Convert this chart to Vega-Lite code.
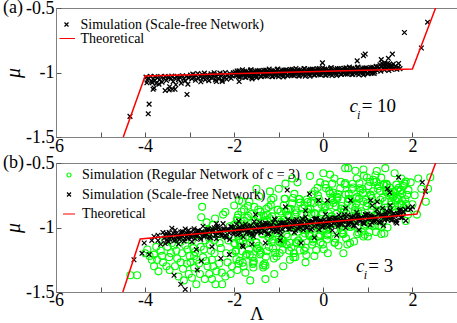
{
"$schema":"https://vega.github.io/schema/vega-lite/v6.json",
"padding":{"left":2,"top":-2,"right":0,"bottom":0},
"bounds":"flush",
"spacing":26,
"resolve":{"scale":{"color":"independent","shape":"independent"},"legend":{"color":"independent","shape":"independent"}},
"config":{
 "view":{"stroke":"#808080","strokeWidth":1},
 "font":"Liberation Serif",
 "axis":{"labelFont":"Liberation Serif","labelFontSize":18,"labelColor":"black","titleFont":"Liberation Serif","titleFontWeight":"normal","titleColor":"black","domainColor":"#808080","tickColor":"#555555","tickSize":-5,"grid":false,"labelOverlap":false,"labelBound":false,"labelFlush":false},
 "text":{"font":"Liberation Serif"}
},
"datasets":{
"a_sf":[{"x":-3.98,"y":-1.035},{"x":-3.95,"y":-1.06},{"x":-3.92,"y":-1.045},{"x":-3.88,"y":-1.03},{"x":-3.85,"y":-1.07},{"x":-3.82,"y":-1.05},{"x":-3.78,"y":-1.032},{"x":-3.75,"y":-1.085},{"x":-3.72,"y":-1.04},{"x":-3.68,"y":-1.058},{"x":-3.65,"y":-1.031},{"x":-3.62,"y":-1.075},{"x":-3.58,"y":-1.045},{"x":-3.55,"y":-1.03},{"x":-3.52,"y":-1.062},{"x":-3.48,"y":-1.038},{"x":-3.45,"y":-1.11},{"x":-3.42,"y":-1.05},{"x":-3.4,"y":-1.028},{"x":-3.37,"y":-1.07},{"x":-3.34,"y":-1.043},{"x":-3.31,"y":-1.095},{"x":-3.28,"y":-1.03},{"x":-3.25,"y":-1.055},{"x":-3.22,"y":-1.038},{"x":-3.19,"y":-1.082},{"x":-3.16,"y":-1.025},{"x":-3.13,"y":-1.048},{"x":-3.1,"y":-1.065},{"x":-3.07,"y":-1.03},{"x":-3.04,"y":-1.09},{"x":-3.02,"y":-1.042},
{"x":-3.96,"y":-1.08},{"x":-3.91,"y":-1.245},{"x":-3.93,"y":-1.32},{"x":-4.34,"y":-1.34},{"x":-3.06,"y":-1.17},{"x":-3.82,"y":-1.13},{"x":-3.55,"y":-1.14},{"x":-3.46,"y":-1.135},{"x":-3.39,"y":-1.13},{"x":-3.33,"y":-1.13},{"x":-3.8,"y":-1.12},{"x":-3.84,"y":-1.08},{"x":-3.78,"y":-1.06},{"x":-3.69,"y":-1.09},
{"x":-2.98,"y":-1.02},{"x":-2.95,"y":-1.048},{"x":-2.93,"y":-1.012},{"x":-2.9,"y":-1.035},{"x":-2.87,"y":-1.06},{"x":-2.85,"y":-1.025},{"x":-2.82,"y":-1.008},{"x":-2.8,"y":-1.045},{"x":-2.77,"y":-1.03},{"x":-2.75,"y":-1.072},{"x":-2.72,"y":-1.015},{"x":-2.7,"y":-1.04},{"x":-2.67,"y":-1.005},{"x":-2.65,"y":-1.055},{"x":-2.62,"y":-1.028},{"x":-2.6,"y":-1.018},{"x":-2.57,"y":-1.063},{"x":-2.55,"y":-1.035},{"x":-2.52,"y":-1.01},{"x":-2.5,"y":-1.045},{"x":-2.47,"y":-1.022},{"x":-2.45,"y":-1.002},{"x":-2.42,"y":-1.058},{"x":-2.4,"y":-1.032},{"x":-2.37,"y":-1.015},{"x":-2.35,"y":-1.048},{"x":-2.32,"y":-1.005},{"x":-2.3,"y":-1.027},{"x":-2.27,"y":-1.07},{"x":-2.25,"y":-1.012},{"x":-2.22,"y":-1.038},{"x":-2.2,"y":-1.0},{"x":-2.17,"y":-1.052},{"x":-2.15,"y":-1.02},{"x":-2.12,"y":-1.035},{"x":-2.1,"y":-1.008},{"x":-2.07,"y":-1.045},{"x":-2.05,"y":-1.025},{"x":-2.02,"y":-1.003},
{"x":-1.89,"y":-1.07},{"x":-1.6,"y":-1.05},{"x":-2.27,"y":-1.06},{"x":-2.4,"y":-1.07},
{"x":-1.98,"y":-0.997},{"x":-1.95,"y":-1.027},{"x":-1.92,"y":-1.012},{"x":-1.89,"y":-0.986},{"x":-1.86,"y":-1.035},{"x":-1.83,"y":-1.002},{"x":-1.8,"y":-1.018},{"x":-1.77,"y":-0.99},{"x":-1.74,"y":-1.038},{"x":-1.71,"y":-1.006},{"x":-1.68,"y":-0.997},{"x":-1.65,"y":-1.028},{"x":-1.62,"y":-0.98},{"x":-1.59,"y":-1.012},{"x":-1.56,"y":-1.02},{"x":-1.53,"y":-0.991},{"x":-1.5,"y":-1.04},{"x":-1.47,"y":-1.001},{"x":-1.44,"y":-0.985},{"x":-1.41,"y":-1.029},{"x":-1.38,"y":-0.991},{"x":-1.35,"y":-1.021},{"x":-1.32,"y":-1.007},{"x":-1.29,"y":-0.981},{"x":-1.26,"y":-1.029},{"x":-1.23,"y":-0.997},{"x":-1.2,"y":-1.013},{"x":-1.17,"y":-0.985},{"x":-1.14,"y":-1.032},{"x":-1.11,"y":-1.001},{"x":-1.08,"y":-0.992},{"x":-1.05,"y":-1.022},{"x":-1.02,"y":-0.974},{"x":-0.99,"y":-1.007},{"x":-0.96,"y":-1.015},{"x":-0.93,"y":-0.985},{"x":-0.9,"y":-1.034},{"x":-0.87,"y":-0.996},{"x":-0.84,"y":-0.98},{"x":-0.81,"y":-1.023},{"x":-0.78,"y":-0.986},{"x":-0.75,"y":-1.016},{"x":-0.72,"y":-1.001},{"x":-0.69,"y":-0.975},{"x":-0.66,"y":-1.024},{"x":-0.63,"y":-0.992},{"x":-0.6,"y":-1.007},{"x":-0.57,"y":-0.979},{"x":-0.54,"y":-1.027},{"x":-0.51,"y":-0.996},{"x":-0.48,"y":-0.986},{"x":-0.45,"y":-1.017},{"x":-0.42,"y":-0.969},{"x":-0.39,"y":-1.002},{"x":-0.36,"y":-1.009},{"x":-0.33,"y":-0.98},{"x":-0.3,"y":-1.029},{"x":-0.27,"y":-0.99},{"x":-0.24,"y":-0.974},{"x":-0.21,"y":-1.018},{"x":-0.18,"y":-0.981},{"x":-0.15,"y":-1.01},{"x":-0.12,"y":-0.996},{"x":-0.09,"y":-0.97},{"x":-0.06,"y":-1.019},{"x":-0.03,"y":-0.986},{"x":0.0,"y":-1.002},{"x":0.03,"y":-0.974},{"x":0.06,"y":-1.021},{"x":0.09,"y":-0.99},{"x":0.12,"y":-0.981},{"x":0.15,"y":-1.012},{"x":0.18,"y":-0.963},{"x":0.21,"y":-0.996},{"x":0.24,"y":-1.004},{"x":0.27,"y":-0.975},{"x":0.3,"y":-1.023},{"x":0.33,"y":-0.985},{"x":0.36,"y":-0.969},{"x":0.39,"y":-1.013},{"x":0.42,"y":-0.975},{"x":0.45,"y":-1.005},{"x":0.48,"y":-0.991},{"x":0.51,"y":-0.964},{"x":0.54,"y":-1.013},{"x":0.57,"y":-0.981},{"x":0.6,"y":-0.997},{"x":0.63,"y":-0.968},{"x":0.66,"y":-1.016},{"x":0.69,"y":-0.985},{"x":0.72,"y":-0.976},{"x":0.75,"y":-1.006},{"x":0.78,"y":-0.958},{"x":0.81,"y":-0.991},{"x":0.84,"y":-0.998},{"x":0.87,"y":-0.969},{"x":0.9,"y":-1.018},{"x":0.93,"y":-0.98},{"x":0.96,"y":-0.963},{"x":0.99,"y":-1.007},{"x":1.02,"y":-0.97},{"x":1.05,"y":-1.0},{"x":1.08,"y":-0.985},{"x":1.11,"y":-0.959},{"x":1.14,"y":-1.008},{"x":1.17,"y":-0.976},
{"x":-1.965,"y":-1.018},{"x":-1.935,"y":-0.988},{"x":-1.905,"y":-1.032},{"x":-1.875,"y":-1.001},{"x":-1.845,"y":-1.022},{"x":-1.815,"y":-0.979},{"x":-1.785,"y":-1.009},{"x":-1.755,"y":-1.037},{"x":-1.725,"y":-0.992},{"x":-1.695,"y":-1.025},{"x":-1.665,"y":-1.005},{"x":-1.635,"y":-0.982},{"x":-1.605,"y":-1.038},{"x":-1.575,"y":-0.995},{"x":-1.545,"y":-1.011},{"x":-1.515,"y":-1.026},{"x":-1.485,"y":-0.986},{"x":-1.455,"y":-1.016},{"x":-1.425,"y":-0.998},{"x":-1.395,"y":-1.032},{"x":-1.365,"y":-1.012},{"x":-1.335,"y":-0.983},{"x":-1.305,"y":-1.027},{"x":-1.275,"y":-0.995},{"x":-1.245,"y":-1.016},{"x":-1.215,"y":-0.974},{"x":-1.185,"y":-1.004},{"x":-1.155,"y":-1.031},{"x":-1.125,"y":-0.986},{"x":-1.095,"y":-1.02},{"x":-1.065,"y":-1.0},{"x":-1.035,"y":-0.976},{"x":-1.005,"y":-1.033},{"x":-0.975,"y":-0.99},{"x":-0.945,"y":-1.006},{"x":-0.915,"y":-1.02},{"x":-0.885,"y":-0.981},{"x":-0.855,"y":-1.011},{"x":-0.825,"y":-0.992},{"x":-0.795,"y":-1.026},{"x":-0.765,"y":-1.007},{"x":-0.735,"y":-0.978},{"x":-0.705,"y":-1.021},{"x":-0.675,"y":-0.99},{"x":-0.645,"y":-1.011},{"x":-0.615,"y":-0.969},{"x":-0.585,"y":-0.998},{"x":-0.555,"y":-1.026},{"x":-0.525,"y":-0.981},{"x":-0.495,"y":-1.014},{"x":-0.465,"y":-0.994},{"x":-0.435,"y":-0.971},{"x":-0.405,"y":-1.028},{"x":-0.375,"y":-0.984},{"x":-0.345,"y":-1.0},{"x":-0.315,"y":-1.015},{"x":-0.285,"y":-0.976},{"x":-0.255,"y":-1.005},{"x":-0.225,"y":-0.987},{"x":-0.195,"y":-1.021},{"x":-0.165,"y":-1.001},{"x":-0.135,"y":-0.972},{"x":-0.105,"y":-1.016},{"x":-0.075,"y":-0.985},{"x":-0.045,"y":-1.005},{"x":-0.015,"y":-0.963},{"x":0.015,"y":-0.993},{"x":0.045,"y":-1.021},{"x":0.075,"y":-0.975},{"x":0.105,"y":-1.009},{"x":0.135,"y":-0.989},{"x":0.165,"y":-0.966},{"x":0.195,"y":-1.022},{"x":0.225,"y":-0.979},{"x":0.255,"y":-0.995},{"x":0.285,"y":-1.009},{"x":0.315,"y":-0.97},{"x":0.345,"y":-1.0},{"x":0.375,"y":-0.982},{"x":0.405,"y":-1.015},{"x":0.435,"y":-0.996},{"x":0.465,"y":-0.967},{"x":0.495,"y":-1.011},{"x":0.525,"y":-0.979},{"x":0.555,"y":-1.0},{"x":0.585,"y":-0.958},{"x":0.615,"y":-0.988},{"x":0.645,"y":-1.015},{"x":0.675,"y":-0.97},{"x":0.705,"y":-1.004},{"x":0.735,"y":-0.983},{"x":0.765,"y":-0.96},{"x":0.795,"y":-1.017},{"x":0.825,"y":-0.974},{"x":0.855,"y":-0.989},{"x":0.885,"y":-1.004},{"x":0.915,"y":-0.965},{"x":0.945,"y":-0.995},{"x":0.975,"y":-0.976},{"x":1.005,"y":-1.01},{"x":1.035,"y":-0.991},{"x":1.065,"y":-0.961},{"x":1.095,"y":-1.005},{"x":1.125,"y":-0.974},{"x":1.155,"y":-0.995},{"x":1.185,"y":-0.952},
{"x":1.21,"y":-0.985},{"x":1.23,"y":-0.955},{"x":1.25,"y":-0.97},{"x":1.27,"y":-0.94},{"x":1.29,"y":-0.99},{"x":1.31,"y":-0.95},{"x":1.32,"y":-0.93},{"x":1.34,"y":-0.965},{"x":1.35,"y":-0.945},{"x":1.37,"y":-0.98},{"x":1.38,"y":-0.925},{"x":1.4,"y":-0.955},{"x":1.41,"y":-0.94},{"x":1.43,"y":-0.97},{"x":1.44,"y":-0.93},{"x":1.46,"y":-0.95},{"x":1.47,"y":-0.985},{"x":1.49,"y":-0.935},{"x":1.5,"y":-0.96},{"x":1.52,"y":-0.945},{"x":1.53,"y":-0.975},{"x":1.55,"y":-0.955},{"x":1.57,"y":-0.935},{"x":1.59,"y":-0.968},{"x":1.62,"y":-0.95},{"x":1.65,"y":-0.975},{"x":1.68,"y":-0.96},{"x":1.72,"y":-0.97},
{"x":1.55,"y":-0.857},{"x":1.69,"y":-0.93},{"x":0.9,"y":-0.87},{"x":0.94,"y":-0.857},{"x":0.76,"y":-0.91},{"x":1.46,"y":-0.89},{"x":-0.02,"y":-0.925},{"x":1.82,"y":-0.69},{"x":2.34,"y":-0.61},{"x":2.2,"y":-0.81},{"x":1.3,"y":-0.9}],
"a_th":[{"x":-4.49,"y":-1.5},{"x":-4.0,"y":-1.027},{"x":2.0,"y":-0.973},{"x":2.52,"y":-0.5}],
"b_reg":[{"x":-4.33,"y":-1.37},{"x":-4.18,"y":-1.37},{"x":-4.0,"y":-1.2},{"x":-3.8,"y":-1.21},{"x":-3.73,"y":-1.25},{"x":-3.8,"y":-1.3},{"x":-3.85,"y":-1.25},{"x":-3.55,"y":-1.1},{"x":-3.5,"y":-1.15},{"x":-3.46,"y":-1.23},{"x":-3.17,"y":-1.2},{"x":-3.33,"y":-1.3},{"x":-3.06,"y":-1.28},{"x":-2.85,"y":-1.44},{"x":-3.13,"y":-1.41},{"x":-2.72,"y":-0.84},{"x":-2.74,"y":-0.92},{"x":-2.42,"y":-1.44},{"x":-2.27,"y":-1.44},{"x":-2.56,"y":-1.36},{"x":-2.79,"y":-1.28},{"x":-2.34,"y":-1.28},{"x":-2.43,"y":-0.93},{"x":-3.95,"y":-1.17},{"x":-3.65,"y":-1.18},{"x":-3.6,"y":-1.27},{"x":-3.4,"y":-1.12},{"x":-3.3,"y":-1.18},{"x":-3.25,"y":-1.09},{"x":-3.2,"y":-1.27},{"x":-3.1,"y":-1.14},{"x":-3.0,"y":-1.22},{"x":-2.95,"y":-1.1},{"x":-2.9,"y":-1.31},{"x":-2.88,"y":-1.19},{"x":-2.8,"y":-1.06},{"x":-2.75,"y":-1.15},{"x":-2.7,"y":-1.23},{"x":-2.65,"y":-1.1},{"x":-2.6,"y":-1.3},{"x":-2.58,"y":-1.02},{"x":-2.52,"y":-1.18},{"x":-2.5,"y":-1.25},{"x":-2.48,"y":-0.98},{"x":-3.45,"y":-1.33},{"x":-3.7,"y":-1.34},{"x":-3.02,"y":-1.36},{"x":-2.95,"y":-1.39},{"x":-3.25,"y":-1.38},{"x":-2.66,"y":-1.4},{"x":-2.57,"y":-1.08},{"x":-2.62,"y":-0.96},{"x":-2.45,"y":-1.1},{"x":-2.4,"y":-1.34},{"x":-2.35,"y":-1.05},{"x":-2.3,"y":-1.16},{"x":-2.25,"y":-0.9},{"x":-2.2,"y":-1.38},{"x":-2.15,"y":-1.27},{"x":-2.1,"y":-0.99},{"x":-2.05,"y":-1.3},{"x":-2.0,"y":-1.12},
{"x":-3.9,"y":-1.22},{"x":-3.75,"y":-1.15},{"x":-3.62,"y":-1.22},{"x":-3.52,"y":-1.3},{"x":-3.42,"y":-1.2},{"x":-3.35,"y":-1.14},{"x":-3.28,"y":-1.24},{"x":-3.15,"y":-1.32},{"x":-3.05,"y":-1.17},{"x":-2.98,"y":-1.27},{"x":-2.92,"y":-1.16},{"x":-2.84,"y":-1.25},{"x":-2.77,"y":-1.36},{"x":-2.73,"y":-1.05},{"x":-2.68,"y":-1.17},{"x":-2.63,"y":-1.26},{"x":-2.55,"y":-1.13},{"x":-2.47,"y":-1.3},{"x":-2.44,"y":-1.2},{"x":-2.38,"y":-1.03},{"x":-2.33,"y":-1.12},{"x":-2.28,"y":-1.35},{"x":-2.23,"y":-1.06},{"x":-2.18,"y":-1.2},{"x":-2.13,"y":-1.1},{"x":-2.08,"y":-1.36},{"x":-2.04,"y":-1.2},{"x":-2.5,"y":-1.4},{"x":-2.9,"y":-1.22},{"x":-3.2,"y":-1.11},
{"x":-2.0,"y":-0.98},{"x":-1.96,"y":-1.176},{"x":-1.92,"y":-1.063},{"x":-1.88,"y":-1.259},{"x":-1.84,"y":-0.876},{"x":-1.8,"y":-1.102},{"x":-1.76,"y":-0.988},{"x":-1.72,"y":-1.205},{"x":-1.68,"y":-0.911},{"x":-1.64,"y":-1.118},{"x":-1.6,"y":-1.054},{"x":-1.56,"y":-1.26},{"x":-1.52,"y":-0.987},{"x":-1.48,"y":-1.163},{"x":-1.44,"y":-0.91},{"x":-1.4,"y":-1.196},{"x":-1.36,"y":-0.992},{"x":-1.32,"y":-1.279},{"x":-1.28,"y":-0.855},{"x":-1.24,"y":-1.072},{"x":-1.2,"y":-0.928},{"x":-1.16,"y":-1.114},{"x":-1.12,"y":-0.771},{"x":-1.08,"y":-1.197},{"x":-1.04,"y":-0.994},{"x":-1.0,"y":-1.08},{"x":-0.96,"y":-0.876},{"x":-0.92,"y":-1.123},{"x":-0.88,"y":-0.939},{"x":-0.84,"y":-0.876},{"x":-0.8,"y":-1.072},{"x":-0.76,"y":-0.958},{"x":-0.72,"y":-1.155},{"x":-0.68,"y":-0.771},{"x":-0.64,"y":-0.998},{"x":-0.6,"y":-0.884},{"x":-0.56,"y":-1.1},{"x":-0.52,"y":-0.807},{"x":-0.48,"y":-1.013},{"x":-0.44,"y":-0.95},{"x":-0.4,"y":-1.156},{"x":-0.36,"y":-0.882},{"x":-0.32,"y":-1.059},{"x":-0.28,"y":-0.805},{"x":-0.24,"y":-1.092},{"x":-0.2,"y":-0.888},{"x":-0.16,"y":-1.174},{"x":-0.12,"y":-0.751},{"x":-0.08,"y":-0.967},{"x":-0.04,"y":-0.824},{"x":0.0,"y":-1.01},{"x":0.04,"y":-0.666},{"x":0.08,"y":-1.093},{"x":0.12,"y":-0.889},{"x":0.16,"y":-0.976},{"x":0.2,"y":-0.772},{"x":0.24,"y":-1.018},{"x":0.28,"y":-0.835},{"x":0.32,"y":-0.771},{"x":0.36,"y":-0.968},{"x":0.4,"y":-0.854},{"x":0.44,"y":-1.05},{"x":0.48,"y":-0.667},{"x":0.52,"y":-0.893},{"x":0.56,"y":-0.78},{"x":0.6,"y":-0.996},{"x":0.64,"y":-0.702},{"x":0.68,"y":-0.909},{"x":0.72,"y":-0.845},{"x":0.76,"y":-1.052},{"x":0.8,"y":-0.778},{"x":0.84,"y":-0.954},{"x":0.88,"y":-0.701},{"x":0.92,"y":-0.987},{"x":0.96,"y":-0.784},{"x":1.0,"y":-1.07},{"x":1.04,"y":-0.646},{"x":1.08,"y":-0.863},{"x":1.12,"y":-0.719},{"x":1.16,"y":-0.906},{"x":1.2,"y":-0.562},{"x":1.24,"y":-0.988},{"x":1.28,"y":-0.785},{"x":1.32,"y":-0.871},{"x":1.36,"y":-0.668},{"x":1.4,"y":-0.914},{"x":1.44,"y":-0.73},{"x":1.48,"y":-0.727},{"x":1.52,"y":-0.824},{"x":1.56,"y":-0.765},{"x":1.6,"y":-0.862},{"x":1.64,"y":-0.668},{"x":1.68,"y":-0.78},{"x":1.72,"y":-0.721},{"x":1.76,"y":-0.828},{"x":1.8,"y":-0.679},{"x":1.84,"y":-0.781},{"x":1.88,"y":-0.747},
{"x":-1.98,"y":-1.128},{"x":-1.94,"y":-0.945},{"x":-1.9,"y":-1.281},{"x":-1.86,"y":-1.047},{"x":-1.82,"y":-1.184},{"x":-1.78,"y":-0.86},{"x":-1.74,"y":-1.217},{"x":-1.7,"y":-0.993},{"x":-1.66,"y":-1.079},{"x":-1.62,"y":-0.896},{"x":-1.58,"y":-1.282},{"x":-1.54,"y":-0.949},{"x":-1.5,"y":-1.115},{"x":-1.46,"y":-0.861},{"x":-1.42,"y":-1.208},{"x":-1.38,"y":-1.044},{"x":-1.34,"y":-0.911},{"x":-1.3,"y":-1.297},{"x":-1.26,"y":-0.943},{"x":-1.22,"y":-1.15},{"x":-1.18,"y":-0.826},{"x":-1.14,"y":-1.093},{"x":-1.1,"y":-0.979},{"x":-1.06,"y":-1.045},{"x":-1.02,"y":-0.862},{"x":-0.98,"y":-1.198},{"x":-0.94,"y":-0.965},{"x":-0.9,"y":-1.101},{"x":-0.86,"y":-0.777},{"x":-0.82,"y":-1.134},{"x":-0.78,"y":-0.91},{"x":-0.74,"y":-0.997},{"x":-0.7,"y":-0.813},{"x":-0.66,"y":-1.199},{"x":-0.62,"y":-0.866},{"x":-0.58,"y":-1.032},{"x":-0.54,"y":-0.779},{"x":-0.5,"y":-1.125},{"x":-0.46,"y":-0.961},{"x":-0.42,"y":-0.828},{"x":-0.38,"y":-1.214},{"x":-0.34,"y":-0.861},{"x":-0.3,"y":-1.067},{"x":-0.26,"y":-0.743},{"x":-0.22,"y":-1.01},{"x":-0.18,"y":-0.896},{"x":-0.14,"y":-0.963},{"x":-0.1,"y":-0.779},{"x":-0.06,"y":-1.115},{"x":-0.02,"y":-0.882},{"x":0.02,"y":-1.018},{"x":0.06,"y":-0.695},{"x":0.1,"y":-1.051},{"x":0.14,"y":-0.827},{"x":0.18,"y":-0.914},{"x":0.22,"y":-0.73},{"x":0.26,"y":-1.117},{"x":0.3,"y":-0.783},{"x":0.34,"y":-0.949},{"x":0.38,"y":-0.696},{"x":0.42,"y":-1.042},{"x":0.46,"y":-0.879},{"x":0.5,"y":-0.745},{"x":0.54,"y":-1.131},{"x":0.58,"y":-0.778},{"x":0.62,"y":-0.984},{"x":0.66,"y":-0.661},{"x":0.7,"y":-0.927},{"x":0.74,"y":-0.813},{"x":0.78,"y":-0.88},{"x":0.82,"y":-0.696},{"x":0.86,"y":-1.033},{"x":0.9,"y":-0.799},{"x":0.94,"y":-0.935},{"x":0.98,"y":-0.612},{"x":1.02,"y":-0.968},{"x":1.06,"y":-0.745},{"x":1.1,"y":-0.831},{"x":1.14,"y":-0.647},{"x":1.18,"y":-1.034},{"x":1.22,"y":-0.7},{"x":1.26,"y":-0.867},{"x":1.3,"y":-0.613},{"x":1.34,"y":-0.959},{"x":1.38,"y":-0.796},{"x":1.42,"y":-0.662},{"x":1.46,"y":-0.919},{"x":1.5,"y":-0.741},{"x":1.54,"y":-0.842},{"x":1.58,"y":-0.759},{"x":1.62,"y":-0.79},{"x":1.66,"y":-0.707},{"x":1.7,"y":-0.878},{"x":1.74,"y":-0.71},{"x":1.78,"y":-0.796},{"x":1.82,"y":-0.658},{"x":1.86,"y":-0.819},
{"x":-1.99,"y":-1.019},{"x":-1.95,"y":-1.246},{"x":-1.91,"y":-0.902},{"x":-1.87,"y":-1.118},{"x":-1.83,"y":-0.975},{"x":-1.79,"y":-1.301},{"x":-1.75,"y":-1.078},{"x":-1.71,"y":-0.924},{"x":-1.67,"y":-1.17},{"x":-1.63,"y":-1.017},{"x":-1.59,"y":-1.233},{"x":-1.55,"y":-0.84},{"x":-1.51,"y":-1.116},{"x":-1.47,"y":-0.922},{"x":-1.43,"y":-1.179},{"x":-1.39,"y":-1.015},{"x":-1.35,"y":-1.292},{"x":-1.31,"y":-0.958},{"x":-1.27,"y":-1.184},{"x":-1.23,"y":-0.841},{"x":-1.19,"y":-1.057},{"x":-1.15,"y":-0.914},{"x":-1.11,"y":-1.24},{"x":-1.07,"y":-1.016},{"x":-1.03,"y":-0.863},{"x":-0.99,"y":-1.109},{"x":-0.95,"y":-0.956},{"x":-0.91,"y":-1.172},{"x":-0.87,"y":-0.778},{"x":-0.83,"y":-1.055},{"x":-0.79,"y":-0.861},{"x":-0.75,"y":-1.118},{"x":-0.71,"y":-0.954},{"x":-0.67,"y":-1.23},{"x":-0.63,"y":-0.897},{"x":-0.59,"y":-1.123},{"x":-0.55,"y":-0.78},{"x":-0.51,"y":-0.996},{"x":-0.47,"y":-0.852},{"x":-0.43,"y":-1.179},{"x":-0.39,"y":-0.955},{"x":-0.35,"y":-0.802},{"x":-0.31,"y":-1.048},{"x":-0.27,"y":-0.894},{"x":-0.23,"y":-1.111},{"x":-0.19,"y":-0.717},{"x":-0.15,"y":-0.994},{"x":-0.11,"y":-0.8},{"x":-0.07,"y":-1.056},{"x":-0.03,"y":-0.893},{"x":0.01,"y":-1.169},{"x":0.05,"y":-0.836},{"x":0.09,"y":-1.062},{"x":0.13,"y":-0.718},{"x":0.17,"y":-0.935},{"x":0.21,"y":-0.791},{"x":0.25,"y":-1.118},{"x":0.29,"y":-0.894},{"x":0.33,"y":-0.74},{"x":0.37,"y":-0.987},{"x":0.41,"y":-0.833},{"x":0.45,"y":-1.05},{"x":0.49,"y":-0.656},{"x":0.53,"y":-0.932},{"x":0.57,"y":-0.739},{"x":0.61,"y":-0.995},{"x":0.65,"y":-0.832},{"x":0.69,"y":-1.108},{"x":0.73,"y":-0.774},{"x":0.77,"y":-1.001},{"x":0.81,"y":-0.657},{"x":0.85,"y":-0.874},{"x":0.89,"y":-0.73},{"x":0.93,"y":-1.056},{"x":0.97,"y":-0.833},{"x":1.01,"y":-0.679},{"x":1.05,"y":-0.926},{"x":1.09,"y":-0.772},{"x":1.13,"y":-0.988},{"x":1.17,"y":-0.595},{"x":1.21,"y":-0.871},{"x":1.25,"y":-0.678},{"x":1.29,"y":-0.934},{"x":1.33,"y":-0.77},{"x":1.37,"y":-1.047},{"x":1.41,"y":-0.713},{"x":1.45,"y":-0.864},{"x":1.49,"y":-0.691},{"x":1.53,"y":-0.797},{"x":1.57,"y":-0.724},{"x":1.61,"y":-0.885},{"x":1.65,"y":-0.772},{"x":1.69,"y":-0.693},{"x":1.73,"y":-0.815},{"x":1.77,"y":-0.736},{"x":1.81,"y":-0.843},{"x":1.85,"y":-0.644},
{"x":-1.97,"y":-1.187},{"x":-1.93,"y":-0.924},{"x":-1.89,"y":-1.1},{"x":-1.85,"y":-0.997},{"x":-1.81,"y":-1.273},{"x":-1.77,"y":-0.949},{"x":-1.73,"y":-1.126},{"x":-1.69,"y":-0.832},{"x":-1.65,"y":-1.209},{"x":-1.61,"y":-1.045},{"x":-1.57,"y":-1.271},{"x":-1.53,"y":-0.988},{"x":-1.49,"y":-1.164},{"x":-1.45,"y":-1.141},{"x":-1.41,"y":-0.877},{"x":-1.37,"y":-1.053},{"x":-1.33,"y":-0.95},{"x":-1.29,"y":-1.226},{"x":-1.25,"y":-0.903},{"x":-1.21,"y":-1.079},{"x":-1.17,"y":-0.785},{"x":-1.13,"y":-1.162},{"x":-1.09,"y":-0.998},{"x":-1.05,"y":-1.225},{"x":-1.01,"y":-0.941},{"x":-0.97,"y":-1.117},{"x":-0.93,"y":-1.094},{"x":-0.89,"y":-0.83},{"x":-0.85,"y":-1.007},{"x":-0.81,"y":-0.903},{"x":-0.77,"y":-1.179},{"x":-0.73,"y":-0.856},{"x":-0.69,"y":-1.032},{"x":-0.65,"y":-0.739},{"x":-0.61,"y":-1.115},{"x":-0.57,"y":-0.951},{"x":-0.53,"y":-1.178},{"x":-0.49,"y":-0.894},{"x":-0.45,"y":-1.071},{"x":-0.41,"y":-1.047},{"x":-0.37,"y":-0.783},{"x":-0.33,"y":-0.96},{"x":-0.29,"y":-0.856},{"x":-0.25,"y":-1.133},{"x":-0.21,"y":-0.809},{"x":-0.17,"y":-0.985},{"x":-0.13,"y":-0.692},{"x":-0.09,"y":-1.068},{"x":-0.05,"y":-0.905},{"x":-0.01,"y":-1.131},{"x":0.03,"y":-0.847},{"x":0.07,"y":-1.024},{"x":0.11,"y":-1.0},{"x":0.15,"y":-0.737},{"x":0.19,"y":-0.913},{"x":0.23,"y":-0.809},{"x":0.27,"y":-1.086},{"x":0.31,"y":-0.762},{"x":0.35,"y":-0.939},{"x":0.39,"y":-0.645},{"x":0.43,"y":-1.021},{"x":0.47,"y":-0.858},{"x":0.51,"y":-1.084},{"x":0.55,"y":-0.801},{"x":0.59,"y":-0.977},{"x":0.63,"y":-0.953},{"x":0.67,"y":-0.69},{"x":0.71,"y":-0.866},{"x":0.75,"y":-0.763},{"x":0.79,"y":-1.039},{"x":0.83,"y":-0.715},{"x":0.87,"y":-0.892},{"x":0.91,"y":-0.598},{"x":0.95,"y":-0.975},{"x":0.99,"y":-0.811},{"x":1.03,"y":-1.037},{"x":1.07,"y":-0.754},{"x":1.11,"y":-0.93},{"x":1.15,"y":-0.907},{"x":1.19,"y":-0.643},{"x":1.23,"y":-0.819},{"x":1.27,"y":-0.716},{"x":1.31,"y":-0.992},{"x":1.35,"y":-0.669},{"x":1.39,"y":-0.845},{"x":1.43,"y":-0.671},
{"x":0.49,"y":-0.54},{"x":0.56,"y":-0.54},{"x":0.72,"y":-0.56},{"x":1.39,"y":-0.54},{"x":1.12,"y":-0.63},{"x":0.25,"y":-0.62},{"x":0.2,"y":-0.66},{"x":-0.07,"y":-0.65},{"x":-0.58,"y":-0.65},{"x":-0.85,"y":-0.66},{"x":1.91,"y":-0.71},{"x":2.4,"y":-0.61},{"x":2.13,"y":-0.62},{"x":1.96,"y":-0.65},{"x":2.05,"y":-0.75},{"x":2.2,"y":-0.7},{"x":2.3,"y":-0.8},{"x":2.0,"y":-0.82},{"x":1.9,"y":-0.9},{"x":1.44,"y":-1.0},{"x":0.9,"y":-1.07},{"x":1.06,"y":-0.98},{"x":-1.64,"y":-1.41},{"x":-1.35,"y":-1.31},{"x":-1.57,"y":-1.31},{"x":-1.93,"y":-1.33},{"x":-0.63,"y":-1.23},{"x":0.34,"y":-1.14},{"x":-0.11,"y":-1.07},{"x":-1.89,"y":-0.79},{"x":-1.66,"y":-0.8},{"x":-1.44,"y":-0.76},{"x":-1.82,"y":-0.8},{"x":-1.2,"y":-0.72},{"x":-1.0,"y":-0.7},{"x":-0.3,"y":-0.6},{"x":0.0,"y":-0.58},{"x":0.9,"y":-0.55},{"x":-1.1,"y":-1.36},{"x":-0.9,"y":-1.3},{"x":-0.4,"y":-1.27},{"x":0.1,"y":-1.2},{"x":0.6,"y":-1.12},{"x":1.3,"y":-1.05},{"x":-2.2,"y":-0.88},{"x":-2.0,"y":-0.83},{"x":-1.3,"y":-1.4},{"x":-0.75,"y":-1.25},{"x":-1.75,"y":-1.35},{"x":-0.2,"y":-1.22},{"x":0.45,"y":-1.2},{"x":-1.5,"y":-0.7},{"x":-0.7,"y":-0.62},{"x":0.15,"y":-0.59},{"x":0.75,"y":-0.62},{"x":1.6,"y":-0.58},{"x":1.75,"y":-0.62},{"x":1.85,"y":-0.95},{"x":2.1,"y":-0.9},{"x":2.35,"y":-0.7}],
"b_sf":[{"x":-3.6,"y":-1.038},{"x":-3.55,"y":-1.124},{"x":-3.5,"y":-1.062},{"x":-3.45,"y":-1.089},{"x":-3.4,"y":-1.006},{"x":-3.35,"y":-1.103},{"x":-3.3,"y":-1.047},{"x":-3.25,"y":-1.128},{"x":-3.2,"y":-1.035},{"x":-3.15,"y":-1.068},{"x":-3.1,"y":-1.011},{"x":-3.05,"y":-1.085},{"x":-3.0,"y":-1.052},{"x":-2.95,"y":-1.11},{"x":-2.9,"y":-1.01},{"x":-2.85,"y":-1.065},{"x":-2.8,"y":-1.026},{"x":-2.75,"y":-1.091},{"x":-2.7,"y":-0.99},{"x":-2.65,"y":-1.047},{"x":-2.6,"y":-1.03},{"x":-2.55,"y":-1.075},{"x":-2.5,"y":-1.009},{"x":-2.45,"y":-1.002},{"x":-2.4,"y":-1.088},{"x":-2.35,"y":-1.026},{"x":-2.3,"y":-1.054},{"x":-2.25,"y":-0.97},{"x":-2.2,"y":-1.067},{"x":-2.15,"y":-1.011},{"x":-2.1,"y":-1.092},{"x":-2.05,"y":-0.999},{"x":-2.0,"y":-1.032},{"x":-1.95,"y":-0.975},{"x":-1.9,"y":-1.049},{"x":-1.85,"y":-1.017},{"x":-1.8,"y":-1.074},{"x":-1.75,"y":-0.974},{"x":-1.7,"y":-1.029},{"x":-1.65,"y":-0.99},{"x":-1.6,"y":-1.055},{"x":-1.55,"y":-0.954},{"x":-1.5,"y":-1.011},{"x":-1.45,"y":-0.994},{"x":-1.4,"y":-1.04},{"x":-1.35,"y":-0.973},{"x":-1.3,"y":-0.966},{"x":-1.25,"y":-1.052},{"x":-1.2,"y":-0.99},{"x":-1.15,"y":-1.018},{"x":-1.1,"y":-0.934},{"x":-1.05,"y":-1.032},{"x":-1.0,"y":-0.975},{"x":-0.95,"y":-1.056},{"x":-0.9,"y":-0.963},{"x":-0.85,"y":-0.996},{"x":-0.8,"y":-0.939},{"x":-0.75,"y":-1.013},{"x":-0.7,"y":-0.981},{"x":-0.65,"y":-1.038},{"x":-0.6,"y":-0.939},{"x":-0.55,"y":-0.993},{"x":-0.5,"y":-0.954},{"x":-0.45,"y":-1.019},{"x":-0.4,"y":-0.918},{"x":-0.35,"y":-0.975},{"x":-0.3,"y":-0.958},{"x":-0.25,"y":-1.004},{"x":-0.2,"y":-0.937},{"x":-0.15,"y":-0.931},{"x":-0.1,"y":-1.016},{"x":-0.05,"y":-0.954},{"x":0.0,"y":-0.982},{"x":0.05,"y":-0.898},{"x":0.1,"y":-0.996},{"x":0.15,"y":-0.939},{"x":0.2,"y":-1.021},{"x":0.25,"y":-0.927},{"x":0.3,"y":-0.96},{"x":0.35,"y":-0.903},{"x":0.4,"y":-0.977},{"x":0.45,"y":-0.945},{"x":0.5,"y":-1.002},{"x":0.55,"y":-0.903},{"x":0.6,"y":-0.957},{"x":0.65,"y":-0.919},{"x":0.7,"y":-0.983},{"x":0.75,"y":-0.882},{"x":0.8,"y":-0.939},{"x":0.85,"y":-0.922},{"x":0.9,"y":-0.968},{"x":0.95,"y":-0.901},{"x":1.0,"y":-0.895},{"x":1.05,"y":-0.98},{"x":1.1,"y":-0.919},{"x":1.15,"y":-0.946},{"x":1.2,"y":-0.862},{"x":1.25,"y":-0.96},{"x":1.3,"y":-0.903},{"x":1.35,"y":-0.985},{"x":1.4,"y":-0.891},{"x":1.45,"y":-0.925},{"x":1.5,"y":-0.867},{"x":1.55,"y":-0.941},{"x":1.6,"y":-0.909},{"x":1.65,"y":-0.966},{"x":1.7,"y":-0.867},{"x":1.75,"y":-0.921},{"x":1.8,"y":-0.883},{"x":1.85,"y":-0.947},{"x":1.9,"y":-0.847},
{"x":-3.575,"y":-1.084},{"x":-3.525,"y":-1.044},{"x":-3.475,"y":-1.11},{"x":-3.425,"y":-1.062},{"x":-3.375,"y":-1.089},{"x":-3.325,"y":-1.021},{"x":-3.275,"y":-1.069},{"x":-3.225,"y":-1.092},{"x":-3.175,"y":-1.041},{"x":-3.125,"y":-1.106},{"x":-3.075,"y":-1.046},{"x":-3.025,"y":-1.022},{"x":-2.975,"y":-1.071},{"x":-2.925,"y":-1.049},{"x":-2.875,"y":-1.087},{"x":-2.825,"y":-1.025},{"x":-2.775,"y":-1.048},{"x":-2.725,"y":-1.032},{"x":-2.675,"y":-1.071},{"x":-2.625,"y":-1.055},{"x":-2.575,"y":-1.014},{"x":-2.525,"y":-1.081},{"x":-2.475,"y":-1.032},{"x":-2.425,"y":-1.059},{"x":-2.375,"y":-0.991},{"x":-2.325,"y":-1.039},{"x":-2.275,"y":-1.063},{"x":-2.225,"y":-1.011},{"x":-2.175,"y":-1.077},{"x":-2.125,"y":-1.016},{"x":-2.075,"y":-0.993},{"x":-2.025,"y":-1.041},{"x":-1.975,"y":-1.019},{"x":-1.925,"y":-1.057},{"x":-1.875,"y":-0.995},{"x":-1.825,"y":-1.019},{"x":-1.775,"y":-1.002},{"x":-1.725,"y":-1.042},{"x":-1.675,"y":-1.025},{"x":-1.625,"y":-0.985},{"x":-1.575,"y":-1.051},{"x":-1.525,"y":-1.002},{"x":-1.475,"y":-1.03},{"x":-1.425,"y":-0.961},{"x":-1.375,"y":-1.01},{"x":-1.325,"y":-1.033},{"x":-1.275,"y":-0.982},{"x":-1.225,"y":-1.047},{"x":-1.175,"y":-0.986},{"x":-1.125,"y":-0.963},{"x":-1.075,"y":-1.011},{"x":-1.025,"y":-0.99},{"x":-0.975,"y":-1.027},{"x":-0.925,"y":-0.966},{"x":-0.875,"y":-0.989},{"x":-0.825,"y":-0.973},{"x":-0.775,"y":-1.012},{"x":-0.725,"y":-0.995},{"x":-0.675,"y":-0.955},{"x":-0.625,"y":-1.021},{"x":-0.575,"y":-0.973},{"x":-0.525,"y":-1.0},{"x":-0.475,"y":-0.932},{"x":-0.425,"y":-0.98},{"x":-0.375,"y":-1.004},{"x":-0.325,"y":-0.952},{"x":-0.275,"y":-1.017},{"x":-0.225,"y":-0.957},{"x":-0.175,"y":-0.933},{"x":-0.125,"y":-0.982},{"x":-0.075,"y":-0.96},{"x":-0.025,"y":-0.998},{"x":0.025,"y":-0.936},{"x":0.075,"y":-0.959},{"x":0.125,"y":-0.943},{"x":0.175,"y":-0.982},{"x":0.225,"y":-0.966},{"x":0.275,"y":-0.925},{"x":0.325,"y":-0.992},{"x":0.375,"y":-0.943},{"x":0.425,"y":-0.971},{"x":0.475,"y":-0.902},{"x":0.525,"y":-0.95},{"x":0.575,"y":-0.974},{"x":0.625,"y":-0.922},{"x":0.675,"y":-0.988},{"x":0.725,"y":-0.927},{"x":0.775,"y":-0.904},{"x":0.825,"y":-0.952},{"x":0.875,"y":-0.931},{"x":0.925,"y":-0.968},{"x":0.975,"y":-0.906},{"x":1.025,"y":-0.93},{"x":1.075,"y":-0.913},{"x":1.125,"y":-0.953},{"x":1.175,"y":-0.936},{"x":1.225,"y":-0.896},{"x":1.275,"y":-0.962},{"x":1.325,"y":-0.913},{"x":1.375,"y":-0.941},{"x":1.425,"y":-0.872},{"x":1.475,"y":-0.921},{"x":1.525,"y":-0.944},{"x":1.575,"y":-0.893},{"x":1.625,"y":-0.958},{"x":1.675,"y":-0.898},{"x":1.725,"y":-0.874},{"x":1.775,"y":-0.922},
{"x":-3.56,"y":-1.06},{"x":-3.51,"y":-1.094},{"x":-3.46,"y":-1.038},{"x":-3.41,"y":-1.073},{"x":-3.36,"y":-1.046},{"x":-3.31,"y":-1.097},{"x":-3.26,"y":-1.059},{"x":-3.21,"y":-1.076},{"x":-3.16,"y":-1.032},{"x":-3.11,"y":-1.086},{"x":-3.06,"y":-1.047},{"x":-3.01,"y":-1.043},{"x":-2.96,"y":-1.077},{"x":-2.91,"y":-1.021},{"x":-2.86,"y":-1.056},{"x":-2.81,"y":-1.029},{"x":-2.76,"y":-1.08},{"x":-2.71,"y":-1.041},{"x":-2.66,"y":-1.059},{"x":-2.61,"y":-1.015},{"x":-2.56,"y":-1.069},{"x":-2.51,"y":-1.03},{"x":-2.46,"y":-1.026},{"x":-2.41,"y":-1.06},{"x":-2.36,"y":-1.003},{"x":-2.31,"y":-1.039},{"x":-2.26,"y":-1.011},{"x":-2.21,"y":-1.063},{"x":-2.16,"y":-1.024},{"x":-2.11,"y":-1.042},{"x":-2.06,"y":-0.998},{"x":-2.01,"y":-1.052},{"x":-1.96,"y":-1.013},{"x":-1.91,"y":-1.008},{"x":-1.86,"y":-1.043},{"x":-1.81,"y":-0.986},{"x":-1.76,"y":-1.022},{"x":-1.71,"y":-0.994},{"x":-1.66,"y":-1.046},{"x":-1.61,"y":-1.007},{"x":-1.56,"y":-1.025},{"x":-1.51,"y":-0.981},{"x":-1.46,"y":-1.034},{"x":-1.41,"y":-0.996},{"x":-1.36,"y":-0.991},{"x":-1.31,"y":-1.026},{"x":-1.26,"y":-0.969},{"x":-1.21,"y":-1.005},{"x":-1.16,"y":-0.977},{"x":-1.11,"y":-1.028},{"x":-1.06,"y":-0.99},{"x":-1.01,"y":-1.007},{"x":-0.96,"y":-0.964},{"x":-0.91,"y":-1.017},{"x":-0.86,"y":-0.979},{"x":-0.81,"y":-0.974},{"x":-0.76,"y":-1.009},{"x":-0.71,"y":-0.952},{"x":-0.66,"y":-0.987},{"x":-0.61,"y":-0.96},{"x":-0.56,"y":-1.011},{"x":-0.51,"y":-0.973},{"x":-0.46,"y":-0.99},{"x":-0.41,"y":-0.947},{"x":-0.36,"y":-1.0},{"x":-0.31,"y":-0.962},{"x":-0.26,"y":-0.957},{"x":-0.21,"y":-0.991},{"x":-0.16,"y":-0.935},{"x":-0.11,"y":-0.97},{"x":-0.06,"y":-0.943},{"x":-0.01,"y":-0.994},{"x":0.04,"y":-0.956},{"x":0.09,"y":-0.973},{"x":0.14,"y":-0.929},{"x":0.19,"y":-0.983},{"x":0.24,"y":-0.944},{"x":0.29,"y":-0.94},{"x":0.34,"y":-0.974},{"x":0.39,"y":-0.918},{"x":0.44,"y":-0.953},{"x":0.49,"y":-0.926},{"x":0.54,"y":-0.977},{"x":0.59,"y":-0.938},{"x":0.64,"y":-0.956},{"x":0.69,"y":-0.912},{"x":0.74,"y":-0.966},{"x":0.79,"y":-0.927},{"x":0.84,"y":-0.923},{"x":0.89,"y":-0.957},{"x":0.94,"y":-0.901},{"x":0.99,"y":-0.936},{"x":1.04,"y":-0.908},{"x":1.09,"y":-0.96},{"x":1.14,"y":-0.921},{"x":1.19,"y":-0.939},{"x":1.24,"y":-0.895},{"x":1.29,"y":-0.949},{"x":1.34,"y":-0.91},{"x":1.39,"y":-0.905},{"x":1.44,"y":-0.94},{"x":1.49,"y":-0.883},{"x":1.54,"y":-0.919},{"x":1.59,"y":-0.891},{"x":1.64,"y":-0.943},{"x":1.69,"y":-0.904},{"x":1.74,"y":-0.922},{"x":1.79,"y":-0.878},
{"x":-4.25,"y":-1.25},{"x":-4.07,"y":-1.2},{"x":-3.91,"y":-1.21},{"x":-4.02,"y":-1.12},{"x":-3.71,"y":-1.06},{"x":-3.71,"y":-1.1},{"x":-3.35,"y":-1.37},{"x":-3.2,"y":-1.44},{"x":-3.1,"y":-1.48},{"x":-3.06,"y":-1.07},{"x":-2.85,"y":-1.17},{"x":-2.74,"y":-1.26},{"x":-2.83,"y":-1.33},{"x":-2.3,"y":-1.24},{"x":-2.11,"y":-1.21},{"x":-1.82,"y":-1.14},{"x":-1.6,"y":-1.13},{"x":-0.85,"y":-0.84},{"x":-1.52,"y":-0.9},{"x":-1.08,"y":-0.94},{"x":0.09,"y":-0.79},{"x":-0.31,"y":-0.74},{"x":-0.81,"y":-0.71},{"x":1.69,"y":-0.61},{"x":2.22,"y":-0.65},{"x":2.29,"y":-0.72},{"x":1.44,"y":-0.7},{"x":1.49,"y":-0.73},{"x":-0.11,"y":-0.79},{"x":0.61,"y":-0.79},{"x":1.06,"y":-0.79},{"x":1.21,"y":-0.8},{"x":2.0,"y":-0.84},{"x":1.84,"y":-0.86},{"x":1.73,"y":-0.86},{"x":1.96,"y":-0.86},{"x":1.5,"y":-0.83},{"x":1.33,"y":-0.85},{"x":-1.8,"y":-1.15},{"x":-1.57,"y":-1.07},{"x":-0.97,"y":-1.1},{"x":-3.85,"y":-1.1},{"x":-3.8,"y":-1.07},{"x":-3.65,"y":-1.13},{"x":-0.5,"y":-1.12},{"x":0.3,"y":-1.06},{"x":0.8,"y":-1.02},{"x":-0.2,"y":-1.08},{"x":-1.3,"y":-1.12},{"x":-2.5,"y":-1.15},{"x":0.5,"y":-0.85},{"x":1.1,"y":-0.83},{"x":-0.4,"y":-0.87},{"x":-1.9,"y":-0.95},{"x":-2.4,"y":-0.97}],
"b_th":[{"x":-4.5,"y":-1.5},{"x":-4.11,"y":-1.089},{"x":2.1,"y":-0.895},{"x":2.52,"y":-0.5}]
},
"vconcat":[
{"width":401,"height":129,
 "layer":[
  {"data":{"name":"a_sf"},"mark":{"type":"point","filled":false,"size":22,"strokeWidth":1.3,"opacity":1,"clip":true},
   "encoding":{
    "x":{"field":"x","type":"quantitative","scale":{"domain":[-6,3],"nice":false,"zero":false},"axis":{"title":null,"labelFont":"Liberation Serif","values":[-6,-5,-4,-3,-2,-1,0,1,2],"labelExpr":"datum.value % 2 == 0 ? '' + datum.value : ''","labelPadding":5}},
    "y":{"field":"y","type":"quantitative","scale":{"domain":[-1.5,-0.5],"nice":false,"zero":false},"axis":{"title":"μ","titleFont":"Liberation Serif","labelFont":"Liberation Serif","titleFontSize":20,"titleFontStyle":"italic","titlePadding":2,"values":[-1.5,-1.25,-1,-0.75,-0.5],"labelExpr":"(datum.value * 2) % 1 == 0 ? '' + datum.value : ''","labelPadding":7}},
    "color":{"datum":"Simulation (Scale-free  Network)","scale":{"domain":["Simulation (Scale-free  Network)","Theoretical"],"range":["#000000","#ff0000"]},"legend":{"title":null,"orient":"none","legendX":3.5,"legendY":9.5,"padding":0,"clipHeight":14,"symbolSize":16,"symbolStrokeWidth":1.2,"symbolOffset":0,"labelOffset":7,"rowPadding":-3,"labelFont":"Liberation Serif","labelFontSize":14,"labelColor":"black","labelLimit":400}},
    "shape":{"datum":"Simulation (Scale-free  Network)","scale":{"domain":["Simulation (Scale-free  Network)","Theoretical"],"range":["M-1,-1L1,1M-1,1L1,-1","M-4.25,0L4.25,0"]},"legend":{"title":null,"orient":"none","legendX":3.5,"legendY":9.5,"padding":0,"clipHeight":14,"symbolSize":16,"symbolStrokeWidth":1.2,"symbolOffset":0,"labelOffset":7,"rowPadding":-3,"labelFont":"Liberation Serif","labelFontSize":14,"labelColor":"black","labelLimit":400}}
   }},
  {"data":{"name":"a_th"},"mark":{"type":"line","color":"#ff0000","strokeWidth":1.5,"clip":true},"encoding":{"x":{"field":"x","type":"quantitative"},"y":{"field":"y","type":"quantitative"}}},
  {"data":{"values":[{}]},"mark":{"type":"text","text":"(a)","font":"Liberation Serif","fontSize":18,"align":"left","baseline":"middle","dx":-53,"color":"black"},"encoding":{"x":{"datum":-6,"type":"quantitative"},"y":{"datum":-0.5,"type":"quantitative"}}},
  {"data":{"values":[{}]},"mark":{"type":"text","text":"c","font":"Liberation Serif","fontSize":19,"fontStyle":"italic","align":"center","baseline":"alphabetic","color":"black"},"encoding":{"x":{"datum":0.68,"type":"quantitative"},"y":{"datum":-1.306,"type":"quantitative"}}},
  {"data":{"values":[{}]},"mark":{"type":"text","text":"i","font":"Liberation Serif","fontSize":12,"fontStyle":"italic","align":"center","baseline":"alphabetic","dx":5,"dy":7,"color":"black"},"encoding":{"x":{"datum":0.68,"type":"quantitative"},"y":{"datum":-1.306,"type":"quantitative"}}},
  {"data":{"values":[{}]},"mark":{"type":"text","text":"= 10","font":"Liberation Serif","fontSize":19,"align":"left","baseline":"alphabetic","dx":8,"color":"black"},"encoding":{"x":{"datum":0.68,"type":"quantitative"},"y":{"datum":-1.306,"type":"quantitative"}}}
 ]},
{"width":401,"height":129,
 "layer":[
  {"data":{"name":"b_reg"},"mark":{"type":"point","filled":false,"size":49,"strokeWidth":1.1,"opacity":1,"clip":true},
   "encoding":{
    "x":{"field":"x","type":"quantitative","scale":{"domain":[-6,3],"nice":false,"zero":false},"axis":{"title":"Λ","titleFont":"Liberation Serif","labelFont":"Liberation Serif","titleFontSize":19,"titlePadding":-5,"values":[-6,-5,-4,-3,-2,-1,0,1,2],"labelExpr":"datum.value % 2 == 0 ? '' + datum.value : ''","labelPadding":4}},
    "y":{"field":"y","type":"quantitative","scale":{"domain":[-1.5,-0.5],"nice":false,"zero":false},"axis":{"title":"μ","titleFont":"Liberation Serif","labelFont":"Liberation Serif","titleFontSize":20,"titleFontStyle":"italic","titlePadding":2,"values":[-1.5,-1.25,-1,-0.75,-0.5],"labelExpr":"(datum.value * 2) % 1 == 0 ? '' + datum.value : ''","labelPadding":7}},
    "color":{"datum":"Simulation (Regular Network of c = 3)","scale":{"domain":["Simulation (Regular Network of c = 3)","Simulation (Scale-free Network)","Theoretical"],"range":["#00ff00","#000000","#ff0000"]},"legend":{"title":null,"orient":"none","legendX":6,"legendY":5,"padding":0,"clipHeight":14,"symbolSize":16,"symbolStrokeWidth":1.2,"symbolOffset":0,"labelOffset":6,"rowPadding":5.5,"labelFont":"Liberation Serif","labelFontSize":14,"labelColor":"black","labelLimit":400}},
    "shape":{"datum":"Simulation (Regular Network of c = 3)","scale":{"domain":["Simulation (Regular Network of c = 3)","Simulation (Scale-free Network)","Theoretical"],"range":["circle","M-1,-1L1,1M-1,1L1,-1","M-3,0L3,0"]},"legend":{"title":null,"orient":"none","legendX":6,"legendY":5,"padding":0,"clipHeight":14,"symbolSize":16,"symbolStrokeWidth":1.2,"symbolOffset":0,"labelOffset":6,"rowPadding":5.5,"labelFont":"Liberation Serif","labelFontSize":14,"labelColor":"black","labelLimit":400}}
   }},
  {"data":{"name":"b_sf"},"mark":{"type":"point","filled":false,"size":22,"strokeWidth":1.2,"opacity":1,"clip":true},
   "encoding":{
    "x":{"field":"x","type":"quantitative"},
    "y":{"field":"y","type":"quantitative"},
    "color":{"datum":"Simulation (Scale-free Network)"},
    "shape":{"datum":"Simulation (Scale-free Network)"}
   }},
  {"data":{"name":"b_th"},"mark":{"type":"line","color":"#ff0000","strokeWidth":1.5,"clip":true},"encoding":{"x":{"field":"x","type":"quantitative"},"y":{"field":"y","type":"quantitative"}}},
  {"data":{"values":[{}]},"mark":{"type":"text","text":"(b)","font":"Liberation Serif","fontSize":18,"align":"left","baseline":"middle","dx":-53,"color":"black"},"encoding":{"x":{"datum":-6,"type":"quantitative"},"y":{"datum":-0.5,"type":"quantitative"}}},
  {"data":{"values":[{}]},"mark":{"type":"text","text":"c","font":"Liberation Serif","fontSize":19,"fontStyle":"italic","align":"center","baseline":"alphabetic","color":"black"},"encoding":{"x":{"datum":0.83,"type":"quantitative"},"y":{"datum":-1.345,"type":"quantitative"}}},
  {"data":{"values":[{}]},"mark":{"type":"text","text":"i","font":"Liberation Serif","fontSize":12,"fontStyle":"italic","align":"center","baseline":"alphabetic","dx":5,"dy":7,"color":"black"},"encoding":{"x":{"datum":0.83,"type":"quantitative"},"y":{"datum":-1.345,"type":"quantitative"}}},
  {"data":{"values":[{}]},"mark":{"type":"text","text":"= 3","font":"Liberation Serif","fontSize":19,"align":"left","baseline":"alphabetic","dx":8,"color":"black"},"encoding":{"x":{"datum":0.83,"type":"quantitative"},"y":{"datum":-1.345,"type":"quantitative"}}}
 ]}
]
}
